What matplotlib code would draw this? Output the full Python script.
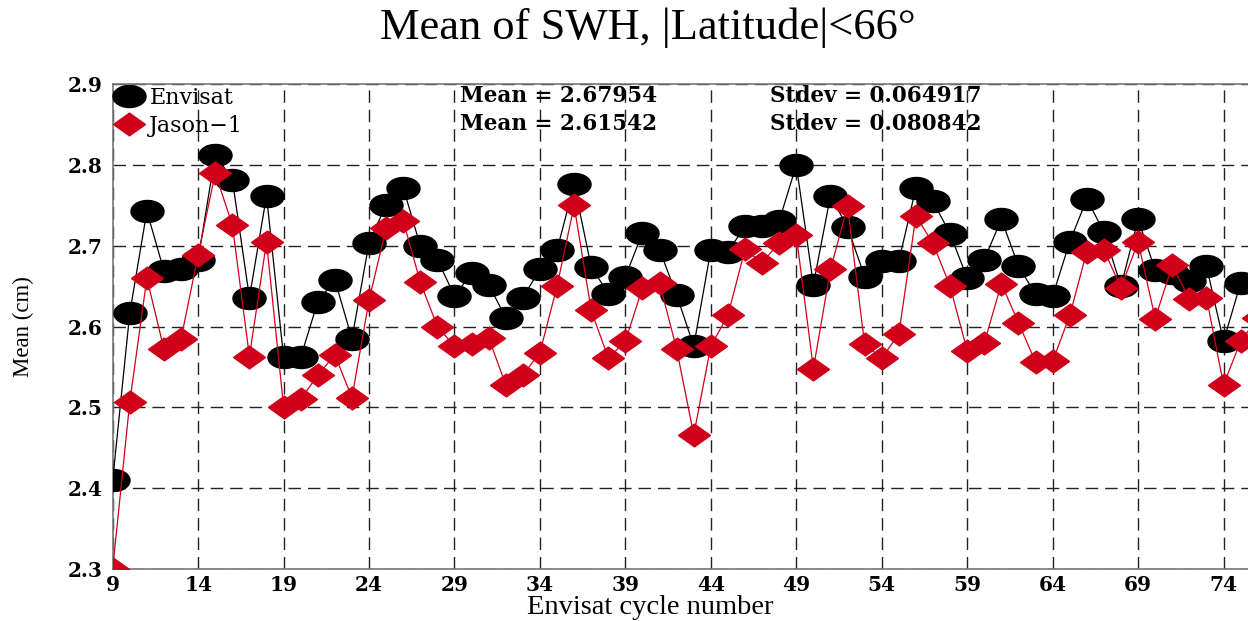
import numpy as np
import matplotlib
matplotlib.use("Agg")
import matplotlib.pyplot as plt
from matplotlib.path import Path
from matplotlib.lines import Line2D

# ---------------- data ----------------
env_cycles = list(range(9, 76))
env_mean = [2.410, 2.617, 2.743, 2.669, 2.671, 2.683, 2.813, 2.782, 2.636, 2.762,
            2.562, 2.562, 2.631, 2.658, 2.585, 2.704, 2.751, 2.772, 2.700, 2.683,
            2.638, 2.666, 2.652, 2.611, 2.636, 2.671, 2.695, 2.776, 2.674, 2.641,
            2.662, 2.716, 2.695, 2.639, 2.576, 2.695, 2.693, 2.724, 2.724, 2.731,
            2.800, 2.652, 2.762, 2.723, 2.662, 2.681, 2.681, 2.772, 2.755, 2.715,
            2.660, 2.683, 2.733, 2.675, 2.640, 2.638, 2.705, 2.758, 2.717, 2.650,
            2.733, 2.670, 2.667, 2.656, 2.675, 2.582, 2.654]

jas_cycles = list(range(9, 77))
jas_mean = [2.300, 2.507, 2.660, 2.572, 2.585, 2.689, 2.790, 2.726, 2.563, 2.705,
            2.501, 2.510, 2.540, 2.565, 2.512, 2.633, 2.722, 2.731, 2.655, 2.600,
            2.576, 2.578, 2.586, 2.528, 2.540, 2.568, 2.650, 2.750, 2.620, 2.561,
            2.582, 2.648, 2.654, 2.572, 2.466, 2.576, 2.614, 2.696, 2.679, 2.704,
            2.713, 2.548, 2.671, 2.749, 2.578, 2.561, 2.591, 2.737, 2.703, 2.650,
            2.570, 2.580, 2.653, 2.605, 2.556, 2.557, 2.614, 2.693, 2.695, 2.648,
            2.705, 2.610, 2.676, 2.634, 2.636, 2.528, 2.582, 2.611]

series_names = ["Envisat", "Jason\u22121"]
stat_means = ["2.67954", "2.61542"]
stat_stdevs = ["0.064917", "0.080842"]
x_ticks = list(range(9, 75, 5))
y_ticks = [2.3, 2.4, 2.5, 2.6, 2.7, 2.8, 2.9]
title_text = "Mean of SWH, |Latitude|<66\u00b0"
xlabel_text = "Envisat cycle number"
ylabel_text = "Mean (cm)"

# ---------------- style ----------------
RED = "#D0001A"
plt.rcParams["lines.scale_dashes"] = False

th = np.linspace(0, 2 * np.pi, 80)
ellipse = Path(np.column_stack([1.5 * np.cos(th), np.sin(th)]), closed=True)
diamond = Path([(0, 1), (1.4, 0), (0, -1), (-1.4, 0), (0, 1)], closed=True)

W, H = 1248, 621
fig = plt.figure(figsize=(W / 100, H / 100), dpi=100)
xmin, xmax = 9, 77
px_per = 17.09
left_px, top_px, bot_px = 112.7, 84.3, 569.0
width_px = (xmax - xmin) * px_per
height_px = bot_px - top_px
ax = fig.add_axes([left_px / W, 1 - bot_px / H, width_px / W, height_px / H])

ax.plot(env_cycles, env_mean, color="black", lw=0.9, marker=ellipse, ms=23.8,
        mfc="black", mec="black", zorder=3)
ax.plot(jas_cycles, jas_mean, color=RED, lw=0.9, marker=diamond, ms=23,
        mfc=RED, mec=RED, zorder=4)

ax.set_xlim(xmin, xmax)
ax.set_ylim(2.3, 2.9)
ax.set_xticks(x_ticks)
ax.set_yticks(y_ticks)
ax.set_yticklabels([f"{v:.1f}" for v in y_ticks])
ax.tick_params(length=0, labelsize=14.5)
for lab in ax.get_xticklabels() + ax.get_yticklabels():
    lab.set_fontfamily("DejaVu Serif")
    lab.set_fontweight("bold")
ax.tick_params(axis="x", pad=4)
ax.tick_params(axis="y", pad=7)

ax.grid(True, color="#222222", lw=1.0, linestyle=(0, (9, 5)))
ax.set_axisbelow(True)
for s in ax.spines.values():
    s.set_color("#777777")
    s.set_linewidth(1.2)

ax.set_xlabel(xlabel_text, fontfamily="Liberation Serif", fontsize=20.5)
ax.xaxis.set_label_coords((650 - left_px) / width_px, (bot_px - 595) / height_px)
ax.set_ylabel(ylabel_text, fontfamily="Liberation Serif", fontsize=16.5)
ax.yaxis.set_label_coords(-(left_px - 34) / width_px, 0.5)

fig.text(648 / W, 1 - 28 / H, title_text, ha="center", va="center",
         fontfamily="Liberation Serif", fontsize=32)

# legend
handles = [Line2D([], [], linestyle="none", marker=ellipse, ms=23.8, mfc="black", mec="black"),
           Line2D([], [], linestyle="none", marker=diamond, ms=23, mfc=RED, mec=RED)]
leg = ax.legend(handles, series_names, loc="upper left", frameon=False,
                bbox_to_anchor=(0.0, 1.0), borderaxespad=0.0, handlelength=1.3,
                handletextpad=0.25, labelspacing=0.3, borderpad=0.1,
                prop={"family": "DejaVu Serif", "size": 16})

# statistics text
for i in range(2):
    ypix = 96 + i * 28
    fig.text(460 / W, 1 - ypix / H, f"Mean = {stat_means[i]}", ha="left", va="center",
             fontfamily="DejaVu Serif", fontweight="bold", fontsize=15.5)
    fig.text(770 / W, 1 - ypix / H, f"Stdev = {stat_stdevs[i]}", ha="left", va="center",
             fontfamily="DejaVu Serif", fontweight="bold", fontsize=15.5)

fig.savefig("out.png", dpi=100)
